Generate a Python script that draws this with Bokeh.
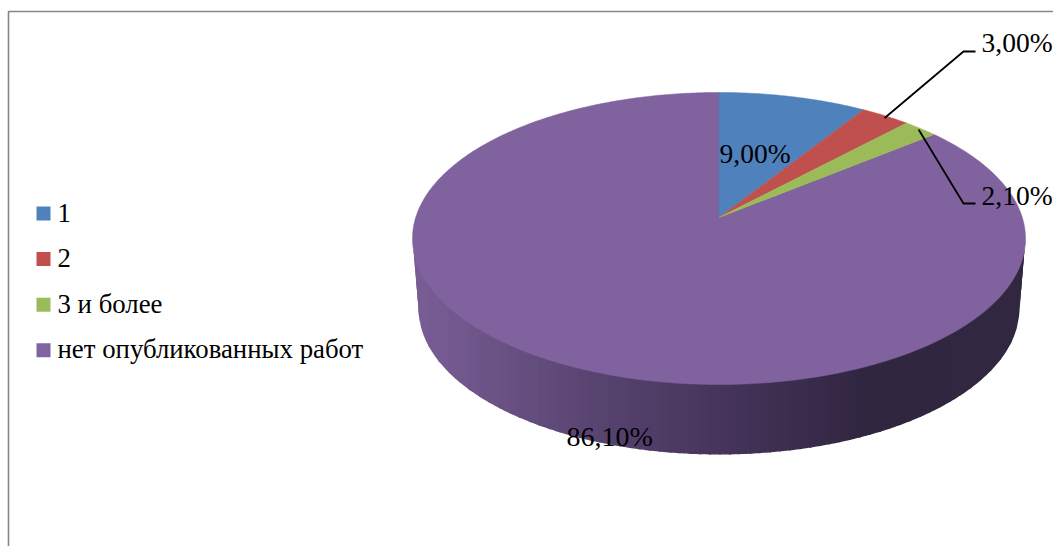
import numpy as np
from bokeh.plotting import figure
from bokeh.models import Range1d
from bokeh.core.properties import value
from bokeh.embed import file_html
from bokeh.resources import INLINE

categories = ["1", "2", "3 и более", "нет опубликованных работ"]
shares = [9.0, 3.0, 2.1, 86.1]
share_labels = ["9,00%", "3,00%", "2,10%", "86,10%"]
colors = ["#4f81bd", "#c0504d", "#9bbb59", "#7f629e"]

FONT = value("Liberation Serif")
p = figure(width=1053, height=546, output_backend="svg", toolbar_location=None,
           x_range=Range1d(0, 1053), y_range=Range1d(546, 0), min_border=0,
           outline_line_color=None, border_fill_color="white", background_fill_color="white")
p.axis.visible = False
p.grid.visible = False

# Chart-area border
p.line([8, 8, 1053], [546, 11, 11], line_color="#868686", line_width=1.6)

# Perspective projection of the pie disc
AX, AY, Q, P, K = 718.5, 217.0, 303.3, 143.0, 0.1438


def rim(theta):
    d = 1 + K * np.cos(theta)
    return AX + Q * np.sin(theta) / d, AY - P * np.cos(theta) / d


# Side wall: vertical gradient strips between the top rim and the lower rim
TOP_A, TOP_B, TOP_CY = 306.5, 146.0, 238.0
BOT_A, BOT_B, BOT_CY = 300.5, 146.0, 308.0
stops_t = [0.0, 0.3, 0.5, 0.75, 1.0]
stops_rgb = np.array([[0x7a, 0x5f, 0x97], [0x58, 0x44, 0x70], [0x47, 0x35, 0x5c],
                      [0x30, 0x26, 0x3f], [0x32, 0x28, 0x42]], dtype=float)
edges = np.linspace(AX - BOT_A, AX + BOT_A, 61)
xs_w, ys_w, cs_w = [], [], []


def lower(x, a, b, cy):
    return cy + b * np.sqrt(np.clip(1 - ((x - AX) / a) ** 2, 0, 1))


# outer side pieces fill the narrow gap from the wider top rim to the lower rim
side_l = np.linspace(AX - TOP_A, AX - BOT_A, 6)
side_r = np.linspace(AX + BOT_A, AX + TOP_A, 6)
for x0, x1 in list(zip(side_l[:-1], side_l[1:])) + list(zip(edges[:-1], edges[1:])) + list(zip(side_r[:-1], side_r[1:])):
    # each strip runs on under its right-hand neighbour, so no seams show
    xx = np.linspace(x0, min(x1 + 2, AX + TOP_A), 6)
    top = lower(xx, TOP_A, TOP_B, TOP_CY)
    inside = np.abs(xx - AX) <= BOT_A
    bot = np.where(inside, lower(xx, BOT_A, BOT_B, BOT_CY),
                   BOT_CY + (TOP_CY - BOT_CY) * (np.abs(xx - AX) - BOT_A) / (TOP_A - BOT_A))
    xs_w.append(list(xx) + list(xx[::-1]))
    ys_w.append(list(top - 1) + list(bot[::-1]))
    f = ((x0 + x1) / 2 - (AX - TOP_A)) / (2 * TOP_A)
    rgb = [int(np.interp(f, stops_t, stops_rgb[:, i])) for i in range(3)]
    cs_w.append("#%02x%02x%02x" % tuple(rgb))
p.patches(xs_w, ys_w, fill_color=cs_w, line_color=None)

# Top face wedges
bounds = np.concatenate([[0], np.cumsum(shares)]) / sum(shares) * 2 * np.pi
order = [3, 0, 1, 2]
for i in order:
    th = np.linspace(bounds[i], bounds[i + 1], max(8, int((bounds[i + 1] - bounds[i]) * 80)))
    x, y = rim(th)
    p.patch([AX] + list(x), [AY] + list(y), fill_color=colors[i], line_color=colors[i], line_width=0.5)

# Leader lines, anchored on the rim at the slice midpoints
mid = (bounds[:-1] + bounds[1:]) / 2
x1, y1 = rim(mid[1])
p.line([x1 - 1, 963, 975], [y1 + 2, 51, 51], line_color="black", line_width=1.8)
x2, y2 = rim(mid[2])
p.line([x2 - 2, 963, 975], [y2 + 1, 203, 203], line_color="black", line_width=1.8)

# Data labels
p.text([719, 981, 981], [153, 42, 195], text=share_labels[:3], text_font=FONT,
       text_font_size="27.5px", text_color="black", text_baseline="alphabetic")
p.text([566], [436], text=share_labels[3:], text_font=FONT,
       text_font_size="28px", text_color="black", text_baseline="alphabetic")

# Legend
for i, name in enumerate(categories):
    y = 213 + 45.6 * i
    p.rect([43], [y], width=14, height=14, fill_color=colors[i] if i < 3 else "#8064a2", line_color=None)
    p.text([57], [y - 1], text=[name], text_font=FONT, text_font_size="26.8px",
           text_color="black", text_baseline="alphabetic")

open("out.html", "w").write(file_html(p, INLINE))
